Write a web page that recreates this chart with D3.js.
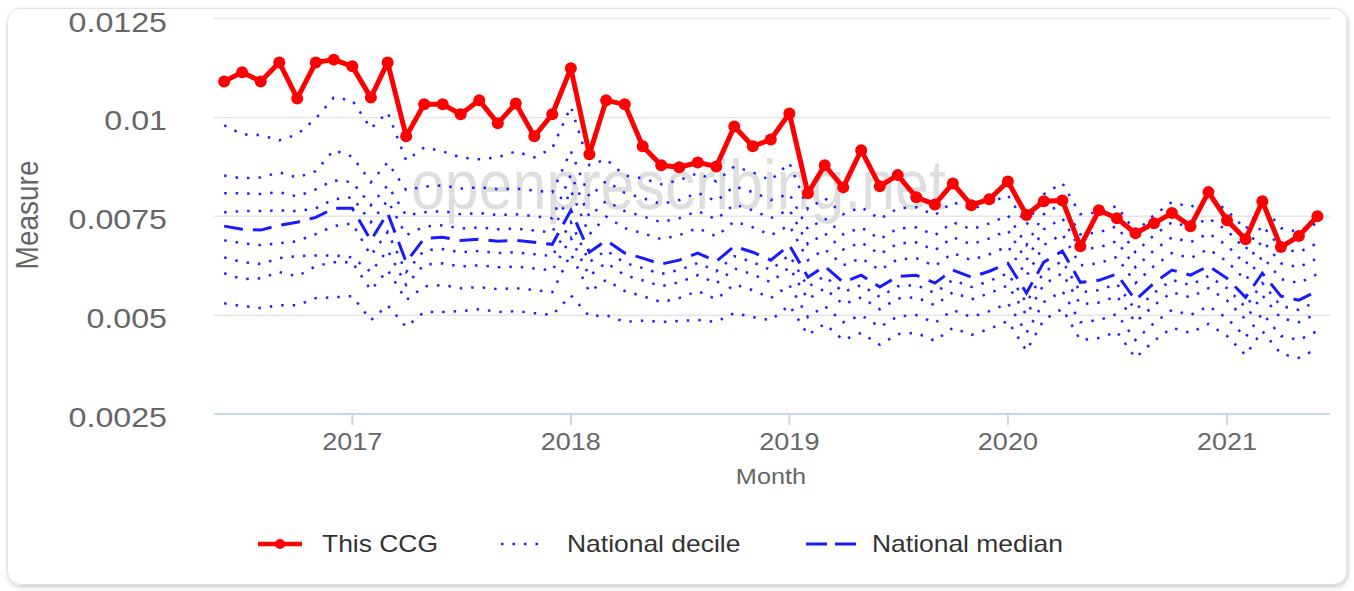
<!DOCTYPE html>
<html>
<head>
<meta charset="utf-8">
<script src="https://cdn.jsdelivr.net/npm/d3@7"></script>
<style>
html, body { margin: 0; padding: 0; background: #fff; }
svg { display: block; font-family: "Liberation Sans", Arial, sans-serif; }
</style>
</head>
<body>
<svg id="chart" width="1354" height="591"></svg>
<script>
// months shown on the x axis
const months = [
  "2016-06","2016-07","2016-08","2016-09","2016-10","2016-11","2016-12",
  "2017-01","2017-02","2017-03","2017-04","2017-05","2017-06","2017-07","2017-08","2017-09","2017-10","2017-11","2017-12",
  "2018-01","2018-02","2018-03","2018-04","2018-05","2018-06","2018-07","2018-08","2018-09","2018-10","2018-11","2018-12",
  "2019-01","2019-02","2019-03","2019-04","2019-05","2019-06","2019-07","2019-08","2019-09","2019-10","2019-11","2019-12",
  "2020-01","2020-02","2020-03","2020-04","2020-05","2020-06","2020-07","2020-08","2020-09","2020-10","2020-11","2020-12",
  "2021-01","2021-02","2021-03","2021-04","2021-05","2021-06"
];

// This CCG
const ccg = [
  .01091,.01114,.01091,.01139,.01048,.01139,.01146,
  .01129,.0105,.01139,.00952,.01033,.01033,.01008,.01043,.00985,.01035,.00952,.01008,
  .01124,.00907,.01043,.01033,.00927,.00879,.00874,.00886,.00876,.00977,.00927,.00944,
  .0101,.00808,.00879,.00823,.00917,.00826,.00854,.00798,.0078,.00833,.00778,.00793,
  .00838,.00753,.00788,.0079,.00674,.00765,.00745,.00707,.00732,.00758,.00725,.00811,
  .0074,.00692,.00788,.00672,.007,.0075
];

// National median
const median = [
  .00725,.00717,.00715,.00727,.00735,.00747,.0077,
  .0077,.00689,.00758,.00634,.00694,.00697,.00689,.00692,.00687,.00689,.00684,.00679,
  .00765,.00659,.00689,.00657,.00644,.00629,.00639,.00657,.00636,.00674,.00659,.00639,
  .00677,.00596,.00624,.00583,.00601,.00571,.00598,.00601,.00581,.00614,.00596,.00611,
  .00631,.00556,.00634,.00662,.00583,.00588,.00604,.00538,.00581,.00614,.00601,.00624,
  .00593,.00545,.00606,.00548,.00538,.00561
];

// National deciles
const d90 = [
  .0098,.00957,.00955,.00942,.00957,.00997,.0105,
  .01043,.00972,.01013,.00891,.00924,.00914,.00899,.00894,.00899,.00914,.00899,.00922,
  .01027,.00879,.00894,.00853,.00846,.00831,.00841,.00859,.00838,.00876,.00861,.00841,
  .00885,.00768,.00796,.00755,.00773,.00743,.0077,.00773,.00753,.00786,.00768,.00783,
  .00803,.00728,.00806,.00834,.00755,.0076,.00776,.0071,.00753,.00786,.00773,.00796,
  .00765,.00717,.00778,.0072,.0071,.00733
];
const d80 = [
  .00853,.00846,.00848,.00861,.00848,.00864,.00917,
  .00901,.00836,.00886,.00816,.00825,.00828,.0082,.00823,.00818,.0082,.00815,.0081,
  .00915,.00799,.00839,.00809,.00796,.00781,.00791,.00809,.00788,.00826,.00811,.00791,
  .00807,.00717,.00745,.00704,.00722,.00692,.00719,.00722,.00702,.00735,.00717,.00732,
  .00752,.00677,.00755,.00783,.00704,.00709,.00725,.00659,.00702,.00735,.00722,.00745,
  .00714,.00666,.00727,.00669,.00659,.00682
];
const d70 = [
  .00808,.00808,.00806,.00811,.008,.00818,.00841,
  .00836,.00778,.00828,.00752,.0076,.00763,.00755,.00758,.00753,.00755,.0075,.00745,
  .00855,.00749,.00789,.00763,.0075,.00735,.00745,.00763,.00742,.0078,.00765,.00745,
  .00767,.00679,.00707,.00666,.00684,.00654,.00681,.00684,.00664,.00697,.00679,.00694,
  .00714,.00639,.00717,.00745,.00666,.00671,.00687,.00621,.00664,.00697,.00684,.00707,
  .00676,.00628,.00689,.00631,.00621,.00644
];
const d60 = [
  .0076,.00763,.00763,.00765,.00763,.0077,.00793,
  .00798,.00735,.0079,.00702,.00724,.00727,.00719,.00722,.00717,.00719,.00714,.00709,
  .00815,.00704,.00749,.0072,.00707,.00692,.00702,.0072,.00699,.00737,.00722,.00702,
  .00727,.00639,.00667,.00626,.00644,.00614,.00641,.00644,.00624,.00657,.00639,.00654,
  .00674,.00599,.00677,.00705,.00626,.00631,.00647,.00581,.00624,.00657,.00644,.00667,
  .00636,.00588,.00649,.00591,.00581,.00604
];
const d40 = [
  .00689,.00682,.00677,.00682,.00687,.00705,.00725,
  .00732,.00651,.0071,.00609,.00664,.00667,.00659,.00662,.00657,.00659,.00654,.00649,
  .00735,.00634,.00664,.00632,.00619,.00604,.00614,.00632,.00611,.00649,.00634,.00614,
  .00652,.00571,.00599,.00558,.00576,.00546,.00573,.00576,.00556,.00589,.00571,.00586,
  .00606,.00531,.00609,.00637,.00558,.00563,.00579,.00513,.00556,.00589,.00576,.00599,
  .00568,.0052,.00581,.00523,.00513,.00536
];
const d30 = [
  .00646,.00634,.00629,.00644,.00649,.00651,.00651,
  .00646,.00609,.00664,.00576,.00628,.00631,.00623,.00626,.00621,.00623,.00618,.00613,
  .00695,.00599,.00633,.00601,.00588,.00573,.00583,.00601,.0058,.00618,.00603,.00583,
  .00621,.0054,.00568,.00527,.00545,.00515,.00542,.00545,.00525,.00558,.0054,.00555,
  .00575,.005,.00578,.00606,.00527,.00532,.00548,.00482,.00525,.00558,.00545,.00568,
  .00537,.00489,.0055,.00492,.00482,.00505
];
const d20 = [
  .00606,.00591,.00593,.00609,.00598,.00624,.00634,
  .00634,.00563,.00614,.00538,.00573,.00576,.00568,.00571,.00566,.00568,.00563,.00558,
  .00655,.00559,.00589,.00561,.00548,.00533,.00543,.00561,.0054,.00578,.00563,.00543,
  .00576,.00495,.00523,.00482,.005,.0047,.00497,.005,.0048,.00513,.00495,.0051,
  .0053,.00455,.00533,.00561,.00482,.00487,.00503,.00437,.0048,.00513,.005,.00523,
  .00492,.00444,.00505,.00447,.00437,.0046
];
const d10 = [
  .0053,.00523,.00518,.00525,.00525,.00543,.00545,
  .00548,.00487,.00525,.0047,.00508,.00508,.0051,.00515,.00508,.0051,.00505,.005,
  .0055,.00497,.005,.00483,.00486,.00483,.00485,.00488,.00483,.00505,.00495,.00487,
  .00525,.0045,.00478,.00437,.00455,.00425,.00452,.00455,.00435,.00468,.0045,.00465,
  .00485,.0041,.00488,.00516,.00437,.00442,.00458,.00392,.00435,.00468,.00455,.00478,
  .00447,.00399,.0046,.00402,.00392,.00415
];
const deciles = [d10, d20, d30, d40, d60, d70, d80, d90];

const yTicks = [0.0025, 0.005, 0.0075, 0.01, 0.0125];
const yTickLabels = ["0.0025", "0.005", "0.0075", "0.01", "0.0125"];
const xTickYears = ["2017", "2018", "2019", "2020", "2021"];
const legendLabels = ["This CCG", "National decile", "National median"];

const stretch = 1.15; // the screenshot is a little wider than tall
const grey = "#666", dark = "#333";

const svg = d3.select("#chart");
const parseMonth = d3.timeParse("%Y-%m");
const dates = months.map(parseMonth);

const x = d3.scaleTime()
    .domain([new Date(2016, 4, 15), new Date(2021, 5, 22)])
    .range([214, 1330]);
const y = d3.scaleLinear()
    .domain([0.0025, 0.0125])
    .range([414, 18.5]);

// card + shadow
const defs = svg.append("defs");
defs.append("filter").attr("id", "shadow")
    .attr("x", "-5%").attr("y", "-5%").attr("width", "110%").attr("height", "115%")
  .append("feDropShadow")
    .attr("dx", 1).attr("dy", 2).attr("stdDeviation", 2.5)
    .attr("flood-color", "#000").attr("flood-opacity", 0.22);

svg.append("rect")
    .attr("x", 7.5).attr("y", 8.5)
    .attr("width", 1339).attr("height", 576)
    .attr("rx", 13)
    .attr("fill", "#fff")
    .attr("stroke", "#e2e2e2")
    .attr("filter", "url(#shadow)");

function addText(g, txt, px, py, size, color, anchor, extra) {
    return g.append("text")
        .attr("transform", `translate(${px},${py}) scale(${stretch},1)` + (extra || ""))
        .attr("text-anchor", anchor)
        .attr("font-size", size)
        .attr("fill", color)
        .text(txt);
}

// grid lines
svg.append("g").selectAll("line")
    .data(yTicks.slice(1))
    .enter().append("line")
    .attr("x1", 214).attr("x2", 1330)
    .attr("y1", d => y(d)).attr("y2", d => y(d))
    .attr("stroke", "#e6e6e6")
    .attr("stroke-width", 1.5);

// y labels
const yLab = svg.append("g");
yTicks.forEach((t, i) => addText(yLab, yTickLabels[i], 167, y(t) + 13, 28, grey, "end"));

// watermark
svg.append("text")
    .attr("transform", "translate(411,209) scale(0.87,1)")
    .attr("font-size", 70)
    .attr("fill", "#dedede")
    .text("openprescribing.net");

// x axis
const xAxis = svg.append("g");
xAxis.append("line")
    .attr("x1", 214).attr("x2", 1330)
    .attr("y1", y(0.0025)).attr("y2", y(0.0025))
    .attr("stroke", "#ccd6eb").attr("stroke-width", 2);
xTickYears.forEach(yr => {
    const xp = x(parseMonth(yr + "-01"));
    xAxis.append("line")
        .attr("x1", xp).attr("x2", xp)
        .attr("y1", 414).attr("y2", 425)
        .attr("stroke", "#ccd6eb").attr("stroke-width", 2);
    addText(xAxis, yr, xp, 450, 23.5, grey, "middle");
});

addText(svg, "Month", 771, 484, 22, grey, "middle");
addText(svg, "Measure", 38, 215, 28, grey, "middle", " rotate(-90)");

// lines
const line = d3.line()
    .x((d, i) => x(dates[i]))
    .y(d => y(d));

svg.append("g").selectAll("path")
    .data(deciles)
    .enter().append("path")
    .attr("d", line)
    .attr("fill", "none")
    .attr("stroke", "#1f1fff")
    .attr("stroke-width", 2.5)
    .attr("stroke-dasharray", "2.5 9");

svg.append("path")
    .datum(median)
    .attr("d", line)
    .attr("fill", "none")
    .attr("stroke", "#1a1aff")
    .attr("stroke-width", 3)
    .attr("stroke-dasharray", "19 10");

svg.append("path")
    .datum(ccg)
    .attr("d", line)
    .attr("fill", "none")
    .attr("stroke", "#ff0000")
    .attr("stroke-width", 5)
    .attr("stroke-linejoin", "round");

svg.append("g").selectAll("circle")
    .data(ccg)
    .enter().append("circle")
    .attr("cx", (d, i) => x(dates[i]))
    .attr("cy", d => y(d))
    .attr("r", 6)
    .attr("fill", "#ff0000");

// legend
const legend = svg.append("g");
legend.append("line").attr("x1", 258).attr("x2", 302).attr("y1", 544).attr("y2", 544)
    .attr("stroke", "#ff0000").attr("stroke-width", 4.5);
legend.append("circle").attr("cx", 280).attr("cy", 544).attr("r", 5).attr("fill", "#ff0000");
addText(legend, legendLabels[0], 322, 552, 23, dark, "start");

legend.append("line").attr("x1", 501).attr("x2", 545).attr("y1", 544).attr("y2", 544)
    .attr("stroke", "#1f1fff").attr("stroke-width", 2.5).attr("stroke-dasharray", "2.5 9");
addText(legend, legendLabels[1], 567, 552, 23, dark, "start");

legend.append("line").attr("x1", 806).attr("x2", 857).attr("y1", 544).attr("y2", 544)
    .attr("stroke", "#1a1aff").attr("stroke-width", 3).attr("stroke-dasharray", "21 8");
addText(legend, legendLabels[2], 872, 552, 23, dark, "start");
</script>
</body>
</html>
